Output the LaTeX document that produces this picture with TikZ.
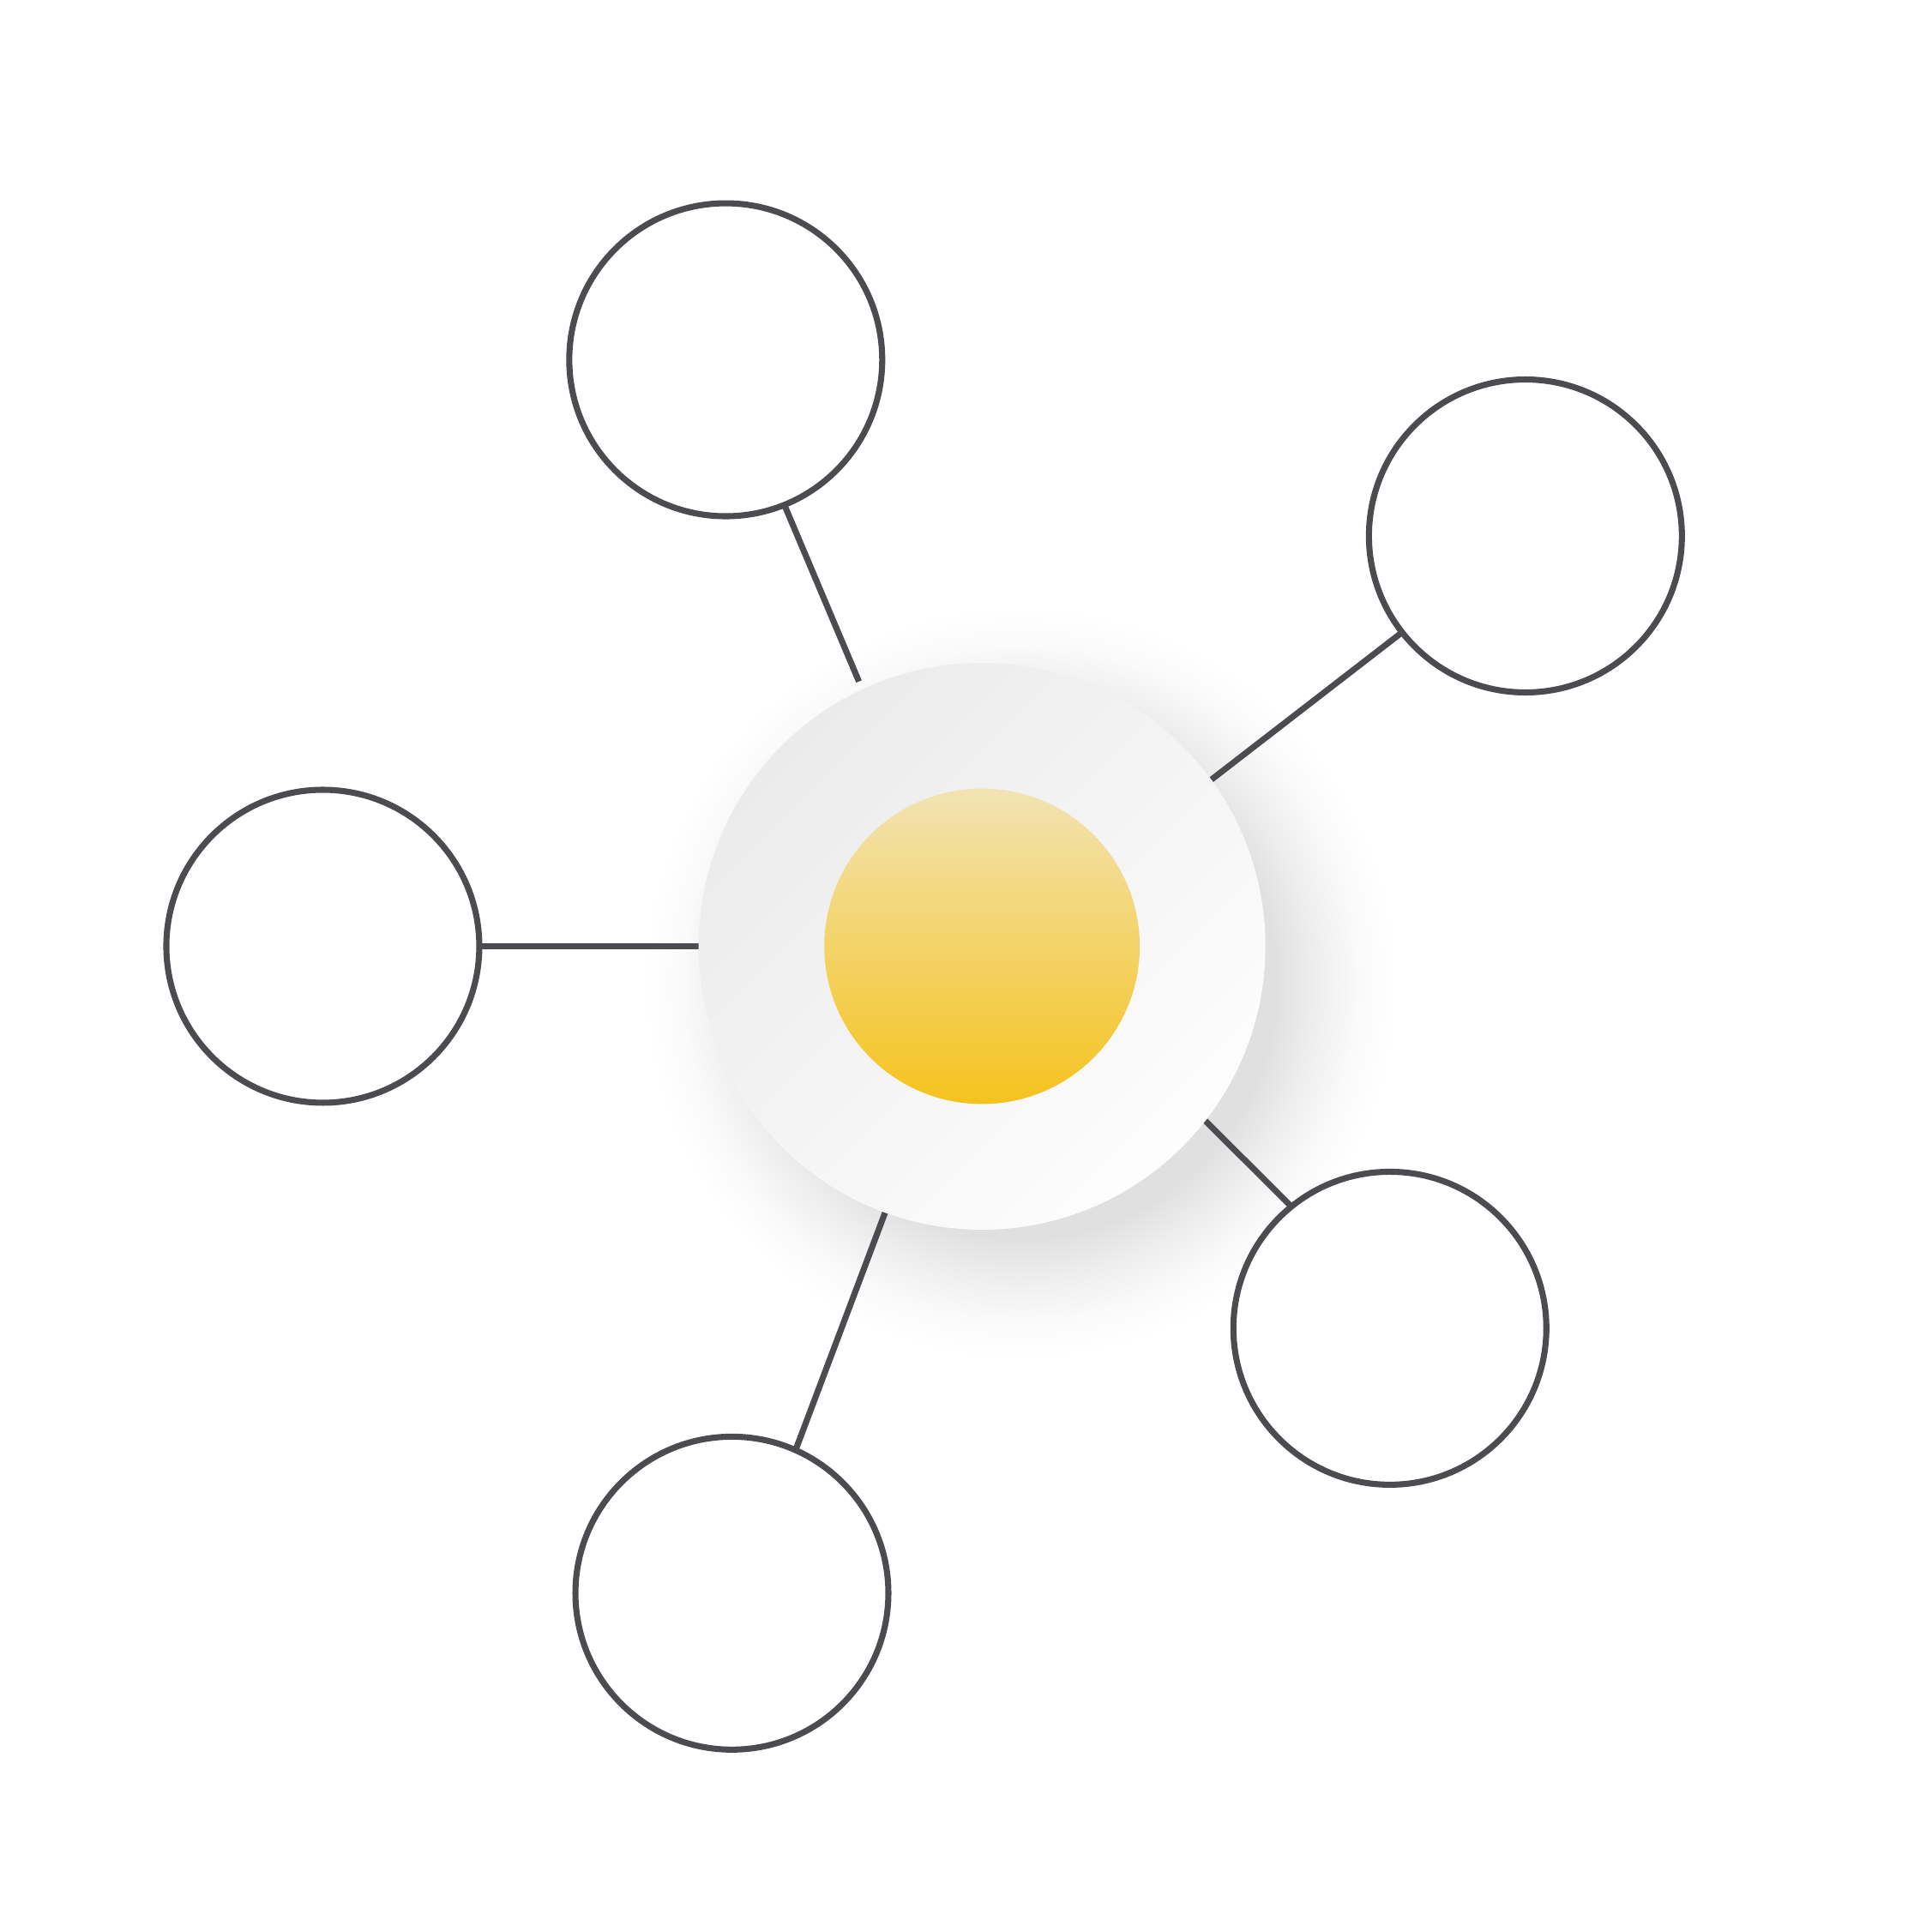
\documentclass[tikz,border=0pt]{standalone}
\usepackage{tikz}
\usetikzlibrary{shapes}
\definecolor{rim}{HTML}{4B4B50}
\definecolor{hubtop}{HTML}{EBEBEB}
\definecolor{hubbot}{HTML}{FDFDFD}
\definecolor{suntop}{HTML}{F2E3B3}
\definecolor{sunbot}{HTML}{F5C31E}
\pgfdeclareradialshading{hubshadow}{\pgfpoint{0bp}{0bp}}{color(0bp)=(black!12); color(17bp)=(black!12); color(19.5bp)=(black!7); color(22.5bp)=(black!2); color(25bp)=(white); color(50bp)=(white)}
\tikzset{
  leaf/.style={circle, draw=rim, line width=1.4pt, fill=white, inner sep=0pt, outer sep=0pt, minimum size=2.54cm},
  spoke/.style={draw=rim, line width=1.4pt}
}
\newcommand{\hubring}[2]{\shade[top color=hubtop, bottom color=hubbot, shading angle=45] (#1) circle (#2);}
\newcommand{\hubcore}[2]{\shade[top color=suntop, bottom color=sunbot] (#1) circle (#2);}
\begin{document}
\begin{tikzpicture}
            \useasboundingbox (0,0) rectangle (15.68,15.68);
            % shadow under the hub
            \shade[shading=hubshadow] (8.28,7.70) circle (3.05);
            % hub, placed first so the spokes can reach it
            \node[circle, inner sep=0pt, outer sep=0pt, minimum size=4.6cm] (hub) at (7.97,8.00) {};
            % outer circles
            \node[leaf] (north) at (5.89,12.76) {};
            \node[leaf] (east) at (12.38,11.33) {};
            \node[leaf] (west) at (2.62,8.00) {};
            \node[leaf] (southeast) at (11.28,4.90) {};
            \node[leaf] (south) at (5.94,2.75) {};
            % spokes
            \draw[spoke, shorten >=0.07cm] (north.-68) -- (hub.115);
            \draw[spoke] (east.218.7) -- (hub.36);
            \draw[spoke] (west.0) -- (hub.180);
            \draw[spoke] (southeast.129.4) -- (hub.-38.4);
            \draw[spoke] (south.66.3) -- (hub.250.2);
            % hub on top
            \hubring{hub.center}{2.3}
            \hubcore{hub.center}{1.28}
        \end{tikzpicture}
\end{document}
